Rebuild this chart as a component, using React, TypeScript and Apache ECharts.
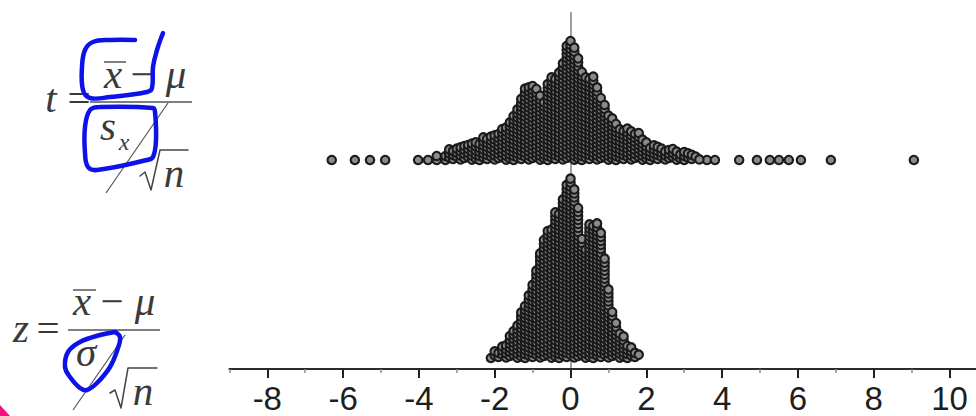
import React, { useEffect, useRef } from "react";
import * as echarts from "echarts";

// ---- data ----
// t statistic: main body of the dot plot, stack height (dots) per 0.1-wide column
const tMassX = [-3.3, -3.2, -3.1, -3.0, -2.9, -2.8, -2.7, -2.6, -2.5, -2.4, -2.3, -2.2, -2.1, -2.0, -1.9, -1.8, -1.7, -1.6, -1.5, -1.4, -1.3, -1.2, -1.1, -1.0, -0.9, -0.8, -0.7, -0.6, -0.5, -0.4, -0.3, -0.2, -0.1, 0.0, 0.1, 0.2, 0.3, 0.4, 0.5, 0.6, 0.7, 0.8, 0.9, 1.0, 1.1, 1.2, 1.3, 1.4, 1.5, 1.6, 1.7, 1.8, 1.9, 2.0, 2.1, 2.2, 2.3, 2.4, 2.5, 2.6, 2.7, 2.8, 2.9, 3.0, 3.1, 3.2, 3.3, 3.4];
const tMassCount = [2, 3, 3, 3, 4, 4, 4, 5, 5, 5, 6, 6, 6, 7, 7, 8, 9, 10, 12, 13, 16, 18, 19, 19, 18, 17, 15, 20, 21, 21, 22, 25, 29, 30, 29, 26, 23, 21, 21, 21, 19, 16, 14, 12, 11, 10, 8, 8, 8, 8, 7, 7, 6, 5, 4, 4, 4, 3, 3, 3, 3, 3, 2, 3, 2, 2, 1, 1];
// t statistic: isolated dots in the tails
const tTailX = [-6.3, -5.69, -5.29, -4.89, -4.02, -3.76, -3.53, 3.6, 3.81, 4.45, 4.92, 5.26, 5.5, 5.76, 6.08, 6.87, 9.06];
const tTailCount = [1, 1, 1, 1, 1, 1, 2, 1, 1, 1, 1, 1, 1, 1, 1, 1, 1];

// z statistic: stack height per 0.1-wide column
const zMassX = [-2.1, -2.0, -1.9, -1.8, -1.7, -1.6, -1.5, -1.4, -1.3, -1.2, -1.1, -1.0, -0.9, -0.8, -0.7, -0.6, -0.5, -0.4, -0.3, -0.2, -0.1, 0.0, 0.1, 0.2, 0.3, 0.4, 0.5, 0.6, 0.7, 0.8, 0.9, 1.0, 1.1, 1.2, 1.3, 1.4, 1.5, 1.6, 1.7, 1.8];
const zMassCount = [1, 2, 2, 3, 4, 6, 7, 9, 12, 14, 16, 19, 22, 27, 30, 32, 33, 37, 37, 40, 44, 45, 43, 38, 30, 28, 34, 34, 34, 32, 25, 18, 12, 9, 7, 6, 4, 3, 2, 1];

const xTickLabels = ["-8", "-6", "-4", "-2", "0", "2", "4", "6", "8", "10"];

// ---- layout / style constants ----
const ORIGIN_X = 570.5;
const UNIT = 37.9;
const AXIS_Y = 369;
const GRID_TOP = 12;
const STEP = 4; // vertical distance between stacked dots
const STAGGER = [0, 2.6, 1.1, 3.3, 0.6, 2.0, 3.0, 0.3, 1.6]; // per-column vertical offset pattern
const T_BASE = 209; // height of t bottom dot centre above the axis
const Z_BASE = 11;

function stack(xs: number[], counts: number[], base: number, stagger: boolean) {
  const pts: number[][] = [];
  xs.forEach((x, i) => {
    const off = stagger ? STAGGER[i % STAGGER.length] : 0;
    for (let k = 0; k < counts[i]; k++) pts.push([x, base + off + k * STEP]);
  });
  return pts;
}

const SERIF = '"Liberation Serif", "Times New Roman", serif';
const INK = "#3a3a3a";
const BLUE = "#0c12e8";

function txt(s: string, cx: number, baseline: number, size: number, italic = true) {
  return {
    type: "text",
    x: cx,
    y: baseline - 0.3375 * size,
    silent: true,
    style: {
      text: s,
      font: `${italic ? "italic " : ""}${size}px ${SERIF}`,
      fill: INK,
      align: "center",
      verticalAlign: "middle",
    },
  };
}
function ln(x1: number, y1: number, x2: number, y2: number, w = 1.5, c = "#555") {
  return { type: "line", silent: true, shape: { x1, y1, x2, y2 }, style: { stroke: c, lineWidth: w } };
}
function poly(points: number[][], w: number, c: string, smooth = 0) {
  return { type: "polyline", silent: true, shape: { points, smooth }, style: { stroke: c, lineWidth: w, fill: "none", lineCap: "round", lineJoin: "round" } };
}

export default function App() {
  const ref = useRef<HTMLDivElement>(null);
  useEffect(() => {
    document.body.style.margin = "0";
    const chart = echarts.init(ref.current!, null, { renderer: "svg" });
    const dots = [
      ...stack(tTailX, tTailCount, T_BASE, false),
      ...stack(tMassX, tMassCount, T_BASE, true),
      ...stack(zMassX, zMassCount, Z_BASE, true),
    ];
    const gridHeight = AXIS_Y - GRID_TOP;
    const FS = 41;
    const graphic: any[] = [
      // t formula
      txt("t", 51, 112, FS),
      txt("=", 79, 112, FS, false),
      ln(90, 102, 192, 102),
      txt("x", 113, 88, FS),
      ln(104, 62, 126, 62),
      txt("\u2212", 142, 88, FS, false),
      txt("\u03bc", 176, 88, FS),
      txt("s", 108, 140, FS),
      txt("x", 124, 150, 24),
      ln(168, 103, 106, 193, 1.2),
      poly([[140, 176], [145, 172], [151, 190], [160, 150], [188, 150]], 1.5, "#444"),
      txt("n", 174, 187, FS),
      // z formula
      txt("z", 21, 342, FS),
      txt("=", 48, 342, FS, false),
      ln(68, 330, 160, 330),
      txt("x", 82, 315, FS),
      ln(73, 290, 96, 290),
      txt("\u2212", 112, 315, FS, false),
      txt("\u03bc", 145, 315, FS),
      txt("\u03c3", 86, 366, FS),
      ln(125, 335, 73, 410, 1.2),
      poly([[110, 393], [115, 390], [121, 408], [128, 368], [157, 368]], 1.5, "#444"),
      txt("n", 143, 405, FS),
      // hand-drawn blue marks
      poly([[135, 40], [110, 40], [93, 42], [85, 50], [82, 67], [83, 90], [90, 98], [110, 97], [147, 92], [152, 88], [153, 67], [157, 50], [163, 33]], 4.5, BLUE, 0.4),
      poly([[100, 107], [153, 108], [155, 112], [156, 140], [153, 157], [147, 160], [97, 170], [88, 167], [85, 153], [85, 127], [90, 110], [100, 107]], 4.5, BLUE, 0.4),
      poly([[115, 332], [100, 335], [80, 342], [68, 352], [65, 367], [70, 377], [80, 388], [87, 390], [97, 383], [110, 367], [118, 348], [120, 337], [115, 332]], 4.5, BLUE, 0.4),
      { type: "polygon", silent: true, shape: { points: [[0, 405], [10, 416], [0, 416]] }, style: { fill: "#f2127f" } },
    ];
    chart.setOption({
      animation: false,
      backgroundColor: "#ffffff",
      grid: [
        { left: ORIGIN_X - 9 * UNIT, width: 20 * UNIT, top: GRID_TOP, height: gridHeight, containLabel: false, outerBoundsMode: "none" },
        { left: ORIGIN_X - 8 * UNIT, width: 20 * UNIT, top: GRID_TOP, height: gridHeight, containLabel: false, outerBoundsMode: "none" },
      ],
      xAxis: [
        {
          gridIndex: 0, type: "value", min: -9, max: 11, interval: 1,
          axisLine: { show: true, lineStyle: { color: "#2b2b2b", width: 2 } },
          axisTick: { show: true, length: 4, lineStyle: { color: "#8a8a8a", width: 1.5 } },
          axisLabel: { show: false }, splitLine: { show: false },
        },
        {
          gridIndex: 1, type: "value", min: -8, max: 12, interval: 2,
          axisLine: { show: false },
          axisTick: { show: true, length: 9, lineStyle: { color: "#222222", width: 2 } },
          axisLabel: {
            show: true, fontSize: 33, fontFamily: '"Liberation Sans", Arial, sans-serif', color: "#1e1e1e", margin: 13,
            formatter: (v: number) => (xTickLabels.includes(String(v)) ? String(v) : ""),
          },
          splitLine: { show: false },
        },
      ],
      yAxis: [
        { gridIndex: 0, type: "value", min: 0, max: gridHeight, show: false },
        { gridIndex: 1, type: "value", min: 0, max: gridHeight, show: false },
      ],
      series: [
        {
          type: "line", xAxisIndex: 0, yAxisIndex: 0, data: [], z: 1, silent: true,
          markLine: {
            silent: true, symbol: "none", label: { show: false }, z: 0,
            lineStyle: { color: "#a0a0a0", width: 2, type: "solid" },
            data: [{ xAxis: 0 }],
          },
        },
        {
          type: "scatter", xAxisIndex: 0, yAxisIndex: 0, z: 3, silent: true, large: false,
          symbol: "circle", symbolSize: 8.5,
          itemStyle: { color: "#8a8a8a", borderColor: "#1a1a1a", borderWidth: 2.1, opacity: 1 },
          emphasis: { disabled: true },
          data: dots,
        },
      ],
      graphic,
    });
    return () => chart.dispose();
  }, []);
  return <div ref={ref} style={{ position: "absolute", left: 0, top: 0, width: 976, height: 416, background: "#fff" }} />;
}
